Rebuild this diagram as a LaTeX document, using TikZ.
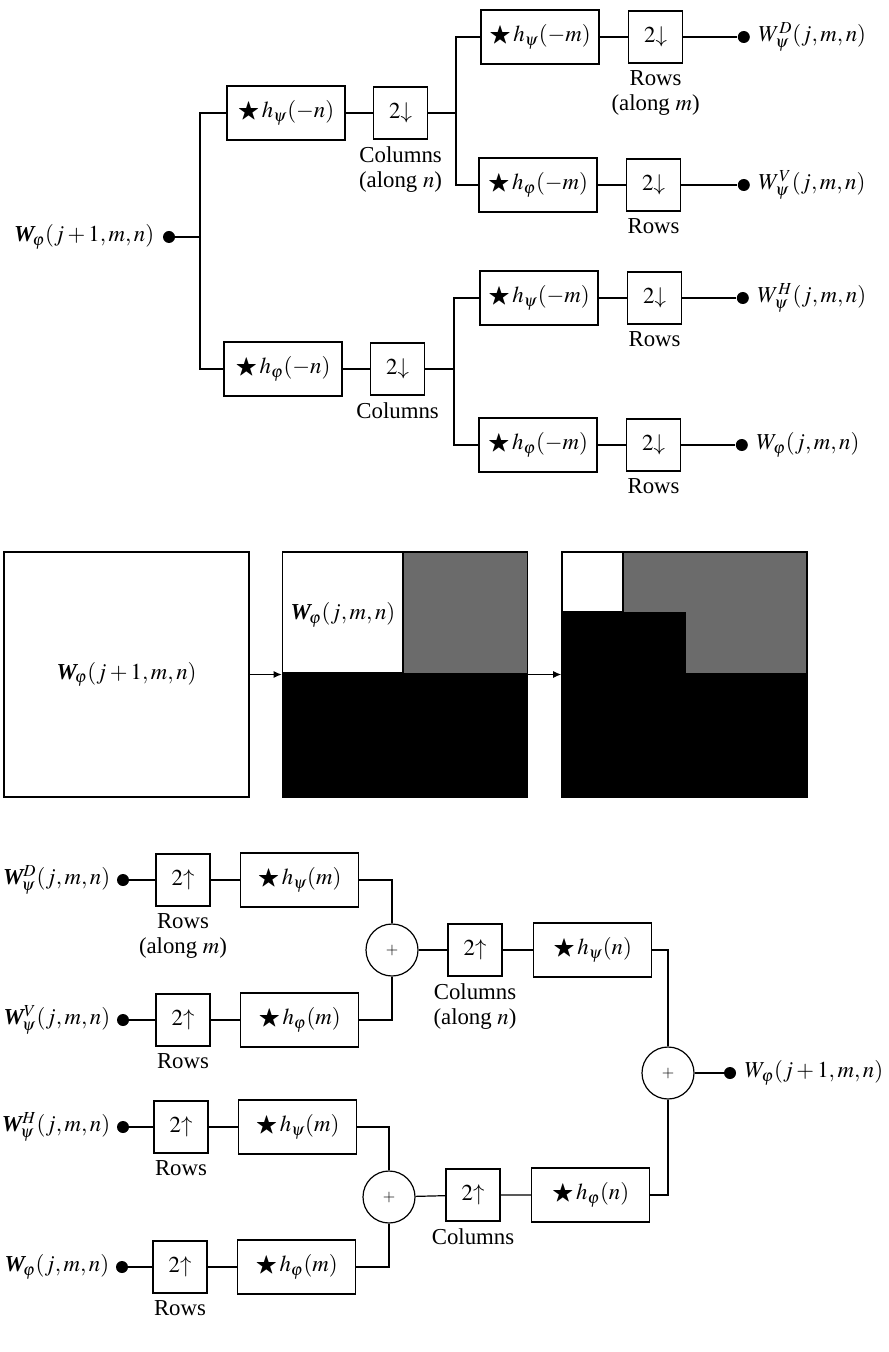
\documentclass[tikz,border=0pt]{standalone}
\usepackage{amsmath}
\usepackage{amssymb}
\usepackage{mathptmx}
\usepackage{fontspec}
\setmainfont{Liberation Serif}
\usetikzlibrary{arrows.meta,positioning}

\newcommand{\Wb}{\mbox{\bfseries\itshape W}}

\begin{document}
\begin{tikzpicture}[
    x=0.5pt, y=-0.5pt,
    font=\fontsize{11.4}{13}\selectfont,
    filt/.style={draw, line width=0.8pt, minimum width=59pt, minimum height=27pt, inner sep=0pt},
    samp/.style={draw, line width=0.8pt, minimum width=27pt, minimum height=26pt, inner sep=0pt},
    sum/.style={draw, circle, line width=0.6pt, minimum size=26pt, inner sep=0pt},
    dot/.style={circle, fill, minimum size=6pt, inner sep=0pt},
    lbl/.style={align=center, inner sep=1pt, label distance=2pt, font=\fontsize{11.4}{12.5}\selectfont},
    wire/.style={line width=0.6pt},
    arr/.style={-{Latex[length=4pt, width=3.5pt]}, line width=0.6pt},
    panel/.style={draw, line width=0.8pt, minimum width=122.5pt, minimum height=122.5pt, inner sep=0pt},
    noise/.style={fill=black!58},
  ]
  \useasboundingbox (0,0) rectangle (888,1352);

  % ===== TOP: analysis filter bank =====
  \node[dot, label={[lbl, label distance=3pt]left:{$\Wb_{\!\varphi}(j+1,m,n)$}}] (in0) at (169,237) {};
  \coordinate (b0) at (200,237);

  \node[filt] (aF1) at (286,113) {$\bigstar\,h_\psi(-n)$};
  \node[samp, right=13.5pt of aF1, label={[lbl]below:Columns\\(along $n$)}] (aD1) {$2{\downarrow}$};
  \node[filt] (aF2) at (283,369) {$\bigstar\,h_\varphi(-n)$};
  \node[samp, right=13.5pt of aF2, label={[lbl]below:Columns}] (aD2) {$2{\downarrow}$};

  \draw[wire] (in0) -- (b0);
  \draw[wire] (aF1.west) -| (b0) |- (aF2.west);
  \draw[wire] (aF1) -- (aD1);
  \draw[wire] (aF2) -- (aD2);

  % second stage (rows)
  \coordinate (b1) at (456,113);
  \coordinate (b2) at (454,369);

  \node[filt] (bF1) at (540,37) {$\bigstar\,h_\psi(-m)$};
  \node[samp, right=14pt of bF1, label={[lbl]below:Rows\\(along $m$)}] (bD1) {$2{\downarrow}$};
  \node[dot, right=27pt of bD1, label={[lbl, label distance=3pt]right:{$W_\psi^{D}(j,m,n)$}}] (o1) {};

  \node[filt] (bF2) at (538,185) {$\bigstar\,h_\varphi(-m)$};
  \node[samp, right=14pt of bF2, label={[lbl]below:Rows}] (bD2) {$2{\downarrow}$};
  \node[dot, right=28pt of bD2, label={[lbl, label distance=3pt]right:{$W_\psi^{V}(j,m,n)$}}] (o2) {};

  \node[filt] (bF3) at (539,298) {$\bigstar\,h_\psi(-m)$};
  \node[samp, right=14pt of bF3, label={[lbl]below:Rows}] (bD3) {$2{\downarrow}$};
  \node[dot, right=27pt of bD3, label={[lbl, label distance=3pt]right:{$W_\psi^{H}(j,m,n)$}}] (o3) {};

  \node[filt] (bF4) at (538,445) {$\bigstar\,h_\varphi(-m)$};
  \node[samp, right=14pt of bF4, label={[lbl]below:Rows}] (bD4) {$2{\downarrow}$};
  \node[dot, right=27pt of bD4, label={[lbl, label distance=3pt]right:{$W_\varphi(j,m,n)$}}] (o4) {};

  \draw[wire] (aD1) -- (b1);
  \draw[wire] (bF1.west) -| (b1) |- (bF2.west);
  \draw[wire] (aD2) -- (b2);
  \draw[wire] (bF3.west) -| (b2) |- (bF4.west);
  \draw[wire] (bF1) -- (bD1) -- (o1);
  \draw[wire] (bF2) -- (bD2) -- (o2);
  \draw[wire] (bF3) -- (bD3) -- (o3);
  \draw[wire] (bF4) -- (bD4) -- (o4);

  % ===== MIDDLE: decomposition panels =====
  \fill[noise] (403,552) rectangle (527,673);
  \fill (283,673) rectangle (527,797);
  \fill[noise] (623,552) rectangle (686,612);
  \fill[noise] (686,552) rectangle (807,673);
  \fill (562,612) rectangle (686,673);
  \fill (562,673) rectangle (807,797);

  \node[panel] (p0) at (126.5,674.5) {$\Wb_{\!\varphi}(j+1,m,n)$};
  \node[panel] (p1) at (405,674.5) {};
  \node[panel] (p2) at (684.5,674.5) {};
  \draw[line width=0.6pt] (403,552) -- (403,673) -- (283,673);
  \draw[line width=0.6pt] (623,552) -- (623,612) -- (562,612);
  \node[lbl] (t1) at (343,615) {$\Wb_{\!\varphi}(j,m,n)$};

  \draw[arr] (p0) -- (p1);
  \draw[arr] (p1) -- (p2);

  % ===== BOTTOM: synthesis filter bank =====
  \node[dot, label={[lbl]left:{$\Wb_{\!\psi}^{D}(j,m,n)$}}] (i1) at (123,880) {};
  \node[samp, label={[lbl]below:Rows\\(along $m$)}] (s1) at (183,880) {$2{\uparrow}$};
  \node[filt, right=14.5pt of s1] (g1) {$\bigstar\,h_\psi(m)$};

  \node[dot, label={[lbl]left:{$\Wb_{\!\psi}^{V}(j,m,n)$}}] (i2) at (123,1020) {};
  \node[samp, label={[lbl]below:Rows}] (s2) at (183,1020) {$2{\uparrow}$};
  \node[filt, right=14.5pt of s2] (g2) {$\bigstar\,h_\varphi(m)$};

  \node[dot, label={[lbl]left:{$\Wb_{\!\psi}^{H}(j,m,n)$}}] (i3) at (123,1127) {};
  \node[samp, label={[lbl]below:Rows}] (s3) at (181,1127) {$2{\uparrow}$};
  \node[filt, right=14.5pt of s3] (g3) {$\bigstar\,h_\psi(m)$};

  \node[dot, label={[lbl]left:{$\Wb_{\!\varphi}(j,m,n)$}}] (i4) at (122,1267) {};
  \node[samp, label={[lbl]below:Rows}] (s4) at (180,1267) {$2{\uparrow}$};
  \node[filt, right=14.5pt of s4] (g4) {$\bigstar\,h_\varphi(m)$};

  \node[sum] (add1) at (392,950) {\footnotesize$+$};
  \node[sum] (add2) at (389,1197) {\footnotesize$+$};

  \node[samp, label={[lbl]below:Columns\\(along $n$)}] (s5) at (475,950) {$2{\uparrow}$};
  \node[filt, right=15pt of s5] (g5) {$\bigstar\,h_\psi(n)$};
  \node[samp, label={[lbl]below:Columns}] (s6) at (473,1195) {$2{\uparrow}$};
  \node[filt, right=15pt of s6] (g6) {$\bigstar\,h_\varphi(n)$};

  \node[sum] (add3) at (668,1073) {\footnotesize$+$};
  \node[dot, right=14.5pt of add3, label={[lbl, label distance=3pt]right:{$W_\varphi(j+1,m,n)$}}] (out) {};

  \draw[wire] (i1) -- (s1) -- (g1);
  \draw[wire] (i2) -- (s2) -- (g2);
  \draw[wire] (i3) -- (s3) -- (g3);
  \draw[wire] (i4) -- (s4) -- (g4);
  \draw[wire] (g1.east) -| (add1.north);
  \draw[wire] (g2.east) -| (add1.south);
  \draw[wire] (g3.east) -| (add2.north);
  \draw[wire] (g4.east) -| (add2.south);
  \draw[wire] (add1) -- (s5) -- (g5);
  \draw[wire] (add2) -- (s6) -- (g6);
  \draw[wire] (g5.east) -| (add3.north);
  \draw[wire] (g6.east) -| (add3.south);
  \draw[wire] (add3) -- (out);

\end{tikzpicture}
\end{document}
